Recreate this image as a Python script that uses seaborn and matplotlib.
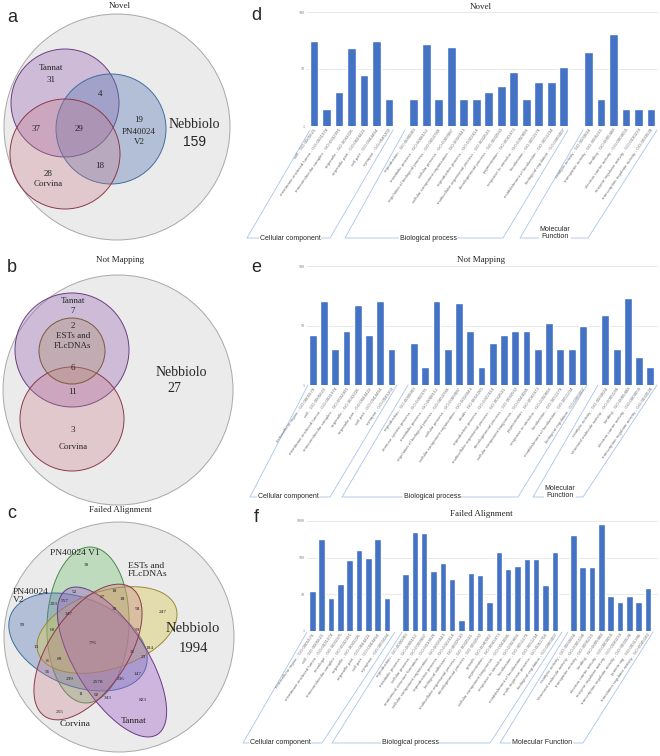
import matplotlib

matplotlib.use("Agg")

import matplotlib.pyplot as plt
import pandas as pd
import seaborn as sns
from matplotlib.patches import Circle, Ellipse
from matplotlib.ticker import NullLocator

# ---------------- data: GO level-2 counts ----------------
# d - Novel
d_cc_terms = ["cell - GO:0005623", "membrane-enclosed lumen - GO:0031974",
              "macromolecular complex - GO:0032991", "organelle - GO:0043226",
              "organelle part - GO:0044422", "cell part - GO:0044464",
              "synapse - GO:0045202"]
d_cc_counts = [31, 2, 4, 23, 8, 31, 3]
d_bp_terms = ["reproduction - GO:0000003", "metabolic process - GO:0008152",
              "regulation of biological process - GO:0050789", "cellular process - GO:0009987",
              "cellular component organization - GO:0016043", "reproductive process - GO:0022414",
              "multicellular organismal process - GO:0032501", "developmental process - GO:0032502",
              "pigmentation - GO:0043473", "response to stimulus - GO:0050896",
              "localization - GO:0051179", "establishment of localization - GO:0051234",
              "biological regulation - GO:0065007"]
d_bp_counts = [3, 28, 3, 24, 3, 3, 4, 5, 9, 3, 6, 6, 11]
d_mf_terms = ["catalytic activity - GO:0003824", "transporter activity - GO:0005215",
              "binding - GO:0005488", "electron carrier activity - GO:0009055",
              "enzyme regulator activity - GO:0030234", "transcription regulator activity - GO:0030528"]
d_mf_counts = [20, 3, 41, 2, 2, 2]

# e - Not Mapping
e_cc_terms = ["extracellular region - GO:0005576"] + d_cc_terms
e_cc_counts = [7, 26, 4, 8, 22, 7, 26, 4]
e_bp_terms = ["reproduction - GO:0000003", "immune system process - GO:0002376",
              "metabolic process - GO:0008152", "regulation of biological process - GO:0050789",
              "cellular process - GO:0009987", "cellular component organization - GO:0016043",
              "death - GO:0016265", "reproductive process - GO:0022414",
              "multicellular organismal process - GO:0032501", "developmental process - GO:0032502",
              "cellular component biogenesis - GO:0044085", "pigmentation - GO:0043473",
              "response to stimulus - GO:0050896", "localization - GO:0051179",
              "establishment of localization - GO:0051234", "biological regulation - GO:0065007"]
e_bp_counts = [5, 2, 26, 4, 24, 8, 2, 5, 7, 8, 8, 4, 11, 4, 4, 10]
e_mf_terms = ["catalytic activity - GO:0003824", "structural molecule activity - GO:0005198",
              "binding - GO:0005488", "electron carrier activity - GO:0009055",
              "transcription regulator activity - GO:0030528"]
e_mf_counts = [15, 4, 29, 3, 2]

# f - Failed Alignment
f_cc_terms = ["extracellular region - GO:0005576", "cell - GO:0005623",
              "membrane-enclosed lumen - GO:0031974", "envelope - GO:0031975",
              "macromolecular complex - GO:0032991", "organelle - GO:0043226",
              "organelle part - GO:0044422", "cell part - GO:0044464", "symplast - GO:0055044"]
f_cc_counts = [12, 315, 8, 19, 86, 161, 98, 315, 8]
f_bp_terms = ["reproduction - GO:0000003", "metabolic process - GO:0008152",
              "cellular process - GO:0009987", "anatomical structure formation - GO:0010926",
              "cellular component organization - GO:0016043", "reproductive process - GO:0022414",
              "biological adhesion - GO:0022610", "multicellular organismal process - GO:0032501",
              "developmental process - GO:0032502", "growth - GO:0040007",
              "pigmentation - GO:0043473", "cellular component biogenesis - GO:0044085",
              "response to stimulus - GO:0050896", "localization - GO:0051179",
              "establishment of localization - GO:0051234", "multi-organism process - GO:0051704",
              "biological regulation - GO:0065007"]
f_bp_counts = [35, 487, 467, 43, 70, 27, 2, 38, 33, 6, 143, 49, 61, 92, 90, 18, 146]
f_mf_terms = ["catalytic activity - GO:0003824", "structural molecule activity - GO:0005198",
              "transporter activity - GO:0005215", "binding - GO:0005488",
              "electron carrier activity - GO:0009055", "enzyme regulator activity - GO:0030234",
              "transcription regulator activity - GO:0030528", "protein tag - GO:0031386",
              "translation regulator activity - GO:0045182"]
f_mf_counts = [421, 55, 56, 820, 9, 6, 9, 6, 15]

BAR = "#4472c4"
LINE = "#a9c4eb"
SERIF = "Liberation Serif"
SANS = "Liberation Sans"

sns.set_style("white")
plt.rcParams["font.family"] = [SERIF, "DejaVu Serif"]

fig = plt.figure(figsize=(6.6, 7.56), dpi=100)
ov = fig.add_axes([0, 0, 1, 1])
ov.set_xlim(0, 660)
ov.set_ylim(756, 0)
ov.axis("off")


def shape(patch_cls, xy, *size, face, edge, alpha, angle=None):
    kw = {} if angle is None else {"angle": angle}
    ov.add_patch(patch_cls(xy, *size, facecolor=face, alpha=alpha, edgecolor="none", **kw))
    ov.add_patch(patch_cls(xy, *size, facecolor="none", edgecolor=edge, lw=0.7, **kw))


def txt(x, y, s, size, family=SERIF, **kw):
    ov.text(x, y, s, fontsize=size, family=family, ha=kw.pop("ha", "center"),
            va=kw.pop("va", "center"), linespacing=1.0, **kw)


# ---------------- Venn a ----------------
shape(Circle, (117, 127), 113, face="#ebebeb", edge="#a8a8a8", alpha=1)
shape(Circle, (65, 103), 54, face="#9664b4", edge="#6b3f7f", alpha=0.35)
shape(Circle, (111, 129), 55, face="#5a78b4", edge="#3f6f9f", alpha=0.38)
shape(Circle, (65, 154), 55, face="#c87887", edge="#8b3a4a", alpha=0.3)
txt(120, 6, "Novel", 6.5)
txt(12, 17, "a", 13, SANS)
for x, y, s in [(51, 68, "Tannat"), (51, 80, "31"), (100, 94, "4"), (36, 129, "37"),
                (79, 129, "29"), (139, 120, "19"), (139, 132, "PN40024"), (139, 142, "V2"),
                (100, 166, "18"), (48, 174, "28"), (48, 184, "Corvina")]:
    txt(x, y, s, 6.5)
txt(194, 125, "Nebbiolo", 10)
txt(194, 142, "159", 10, SANS)

# ---------------- Venn b ----------------
shape(Circle, (118, 390), 115, face="#ebebeb", edge="#a8a8a8", alpha=1)
shape(Circle, (72, 350), 57, face="#9664b4", edge="#6b3f7f", alpha=0.35)
shape(Circle, (72, 419), 52, face="#c87887", edge="#8b3a4a", alpha=0.3)
shape(Circle, (72, 351), 33, face="#b09070", edge="#7a5a3a", alpha=0.35)
txt(120, 260, "Not Mapping", 6.5)
txt(12, 267, "b", 13, SANS)
for x, y, s in [(73, 301, "Tannat"), (73, 311, "7"), (73, 326, "2"), (73, 336, "ESTs and"),
                (73, 346, "FLcDNAs"), (73, 368, "6"), (73, 392, "11"), (73, 430, "3"),
                (73, 447, "Corvina")]:
    txt(x, y, s, 6.5)
txt(181, 372, "Nebbiolo", 10)
txt(174, 388, "27", 10)

# ---------------- Venn c ----------------
shape(Circle, (119, 637), 115, face="#ebebeb", edge="#a8a8a8", alpha=1)
shape(Ellipse, (88, 625), 82, 156, face="#6cbf6c", edge="#4a8a4a", alpha=0.35, angle=2)
shape(Ellipse, (78, 642), 145, 88, face="#5a78b4", edge="#3f6f9f", alpha=0.38, angle=22)
shape(Ellipse, (107, 630), 145, 78, face="#d8c850", edge="#9a8a3a", alpha=0.4, angle=-18)
shape(Ellipse, (112, 662), 171, 72, face="#a064c8", edge="#6a3a8a", alpha=0.4, angle=58)
shape(Ellipse, (88, 652), 155, 78, face="#c87887", edge="#8b3a4a", alpha=0.3, angle=-56)
txt(120, 510, "Failed Alignment", 6.5)
txt(12, 514, "c", 13, SANS)
txt(75, 553, "PN40024 V1", 6.8)
txt(128, 570, "ESTs and\nFLcDNAs", 6.8, ha="left")
txt(13, 596, "PN40024\nV2", 6.8, ha="left")
txt(75, 724, "Corvina", 6.8)
txt(134, 721, "Tannat", 6.8)
txt(193, 629, "Nebbiolo", 10.5)
txt(193, 648, "1994", 10.5)
for x, y, s in [(86, 565, "39"), (74, 592, "52"), (114, 591, "18"), (122, 599, "18"),
                (102, 597, "27"), (65, 601, "557"), (54, 604, "203"), (114, 609, "39"),
                (137, 609, "58"), (163, 612, "247"), (69, 614, "347"), (23, 625, "99"),
                (52, 630, "60"), (137, 630, "59"), (93, 643, "776"), (36, 647, "13"),
                (150, 648, "184"), (132, 652, "31"), (143, 657, "23"), (47, 661, "8"),
                (59, 659, "89"), (47, 672, "56"), (138, 674, "147"), (70, 679, "239"),
                (98, 682, "2578"), (121, 679, "236"), (81, 694, "11"), (97, 695, "92"),
                (108, 698, "343"), (143, 700, "823"), (60, 712, "255")]:
    txt(x, y, s, 3.8)


# ---------------- GO bar charts ----------------
def go_bar(rect, groups, yticks, xlim, title, title_y, letter, letter_y, brackets):
    rows, order = [], []
    for i, (terms, counts) in enumerate(groups):
        if i:
            order.append(" " * i)
        order += terms
        rows += [{"term": t, "count": c} for t, c in zip(terms, counts)]
    df = pd.DataFrame(rows)

    l, t, r, b = rect
    ax = fig.add_axes([l / 660, 1 - b / 756, (r - l) / 660, (b - t) / 756])
    ax.patch.set_alpha(0)
    ax.set_yscale("log")
    sns.barplot(data=df, x="term", y="count", order=order, color=BAR,
                width=0.7, saturation=1, ax=ax)
    ax.set_ylim(yticks[0], yticks[-1])
    ax.set_xlim(*xlim)
    ax.set_yticks(yticks, [str(v) for v in yticks], fontsize=3, color="#777777")
    ax.yaxis.set_minor_locator(NullLocator())
    ax.grid(axis="y", color="#e4e4e4", lw=0.6)
    ax.set_axisbelow(True)
    ax.set_xticks(range(len(order)), [o.strip() for o in order], rotation=55,
                  ha="right", rotation_mode="anchor", fontsize=3.2, color="#707070",
                  family=SANS)
    ax.tick_params(length=0, pad=1.5)
    ax.set_xlabel("")
    ax.set_ylabel("")
    sns.despine(ax=ax, left=True, bottom=True)

    txt(481, title_y, title, 6.5)
    txt(256, letter_y, letter, 13, SANS)
    for (x1, x2, x3, x4, y1, y2), name, tx in brackets:
        ov.plot([x1, x2, x3, x4], [y1, y2, y2, y1], color=LINE, lw=0.6)
        ty = y2 - 5 if "\n" in name else y2
        txt(tx, ty, name, 5, SANS, multialignment="center",
            bbox=dict(facecolor="white", edgecolor="none", pad=0.6))
    return ax


go_bar((307, 12, 658, 126),
       [(d_cc_terms, d_cc_counts), (d_bp_terms, d_bp_counts), (d_mf_terms, d_mf_counts)],
       [1, 10, 100], (-0.56, 27.56), "Novel", 7, "d", 15,
       [((310, 247, 330, 393, 130, 238), "Cellular component", 290),
        ((405, 345, 503, 568, 130, 238), "Biological process", 428),
        ((583, 520, 588, 657, 130, 238), "Molecular\nFunction", 555)])

go_bar((307, 266, 658, 385),
       [(e_cc_terms, e_cc_counts), (e_bp_terms, e_bp_counts), (e_mf_terms, e_mf_counts)],
       [1, 10, 100], (-0.51, 30.68), "Not Mapping", 260, "e", 268,
       [((308, 250, 330, 397, 385, 497), "Cellular component", 288),
        ((408, 342, 518, 587, 385, 497), "Biological process", 432),
        ((598, 533, 583, 657, 385, 497), "Molecular\nFunction", 560)])

go_bar((307, 521, 658, 631),
       [(f_cc_terms, f_cc_counts), (f_bp_terms, f_bp_counts), (f_mf_terms, f_mf_counts)],
       [1, 10, 100, 1000], (-0.57, 37.07), "Failed Alignment", 514, "f", 518,
       [((307, 243, 322, 395, 632, 743), "Cellular component", 280),
        ((402, 332, 490, 562, 632, 743), "Biological process", 410),
        ((568, 500, 583, 653, 632, 743), "Molecular Function", 542)])

fig.savefig("out.png", dpi=100, facecolor="white")
